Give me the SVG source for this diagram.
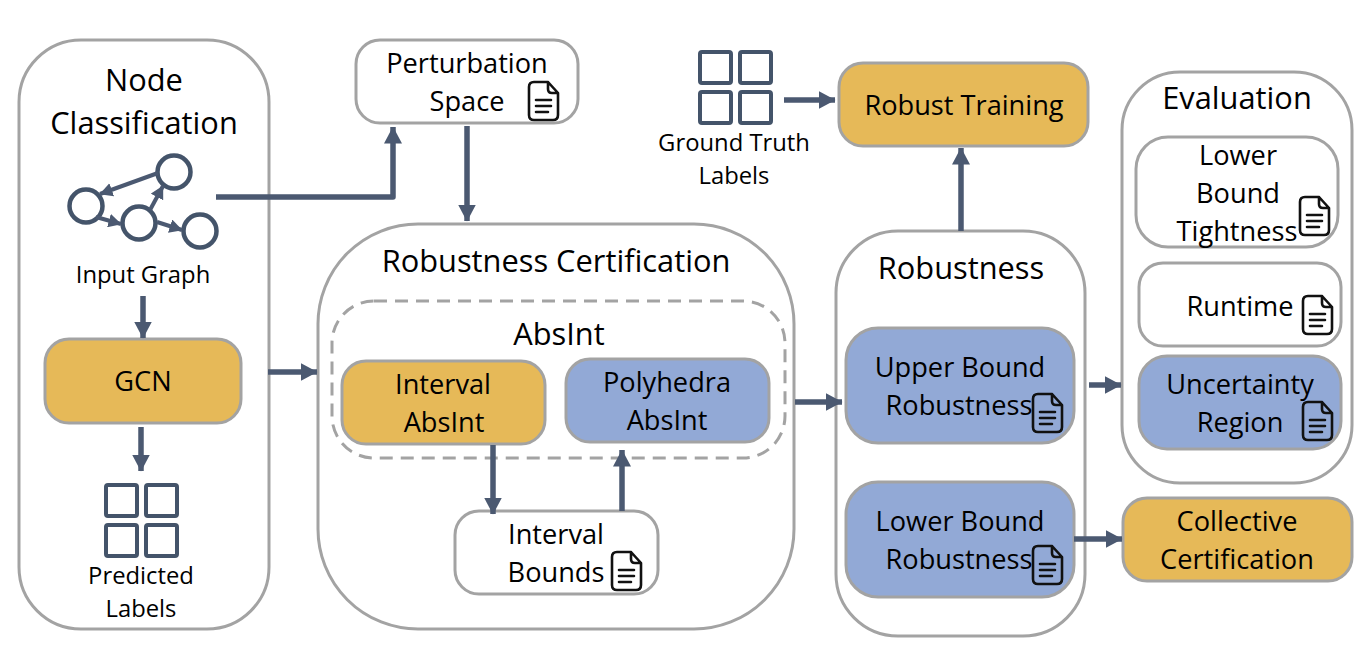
<svg xmlns="http://www.w3.org/2000/svg" width="1357" height="650" viewBox="0 0 1357 650">
<style>
text{font-family:"Open Sans","Noto Sans","Liberation Sans",sans-serif;fill:#000;text-anchor:middle}
.t{font-size:27.2px}.h{font-size:30.8px}.s{font-size:23.8px}
.b{fill:#fff;stroke:#a3a3a3;stroke-width:3}
.y{fill:#e6b958;stroke:#a3a3a3;stroke-width:3}
.u{fill:#92a9d6;stroke:#a3a3a3;stroke-width:3}
.c{fill:none;stroke:#4b5971;stroke-width:5.5}
.ic{fill:none;stroke:#44546a;stroke-width:4}
.n{fill:#fff;stroke:#44546a;stroke-width:4.5}
.e{fill:none;stroke:#4b5971;stroke-width:4}
.d{fill:none;stroke:#111;stroke-width:2.6;stroke-linejoin:round;stroke-linecap:round}
</style>
<defs>
<marker id="a" viewBox="0 0 13 14" refX="12.5" refY="7" markerWidth="13" markerHeight="14" markerUnits="userSpaceOnUse" orient="auto"><path d="M0 0L13 7L0 14Z" fill="#4b5971"/></marker>
<marker id="m" viewBox="0 0 17 18" refX="16.5" refY="9" markerWidth="17" markerHeight="18" markerUnits="userSpaceOnUse" orient="auto"><path d="M0 0L17 9L0 18Z" fill="#4b5971"/></marker>
<symbol id="doc" overflow="visible"><path class="d" d="M5 0H19L29 11V33Q29 38 24 38H5Q0 38 0 33V5Q0 0 5 0ZM19 0V7Q19 11 23 11H29M7 18H22M7 24H22M7 30H19"/></symbol>
<symbol id="grid" overflow="visible"><g class="ic"><rect x="0" y="0" width="31" height="31" rx="2"/><rect x="40" y="0" width="31" height="31" rx="2"/><rect x="0" y="40" width="31" height="31" rx="2"/><rect x="40" y="40" width="31" height="31" rx="2"/></g></symbol>
</defs>

<g id="node-classification">
<rect class="b" x="19" y="40" width="250" height="589" rx="62"/>
<text class="h" x="144" y="91">Node</text>
<text class="h" x="144" y="134">Classification</text>
<circle class="n" cx="174" cy="172" r="16.5"/><circle class="n" cx="86" cy="206" r="16.5"/><circle class="n" cx="139" cy="223" r="16.5"/><circle class="n" cx="200" cy="231" r="16.5"/>
<g class="e"><path d="M158 173L100 194" marker-end="url(#a)"/><path d="M96 217L121 224" marker-end="url(#a)"/><path d="M150 210L163 186" marker-end="url(#a)"/><path d="M157 222L182 230" marker-end="url(#a)"/></g>
<text class="s" x="143" y="283">Input Graph</text>
</g>
<g id="gcn"><rect class="y" x="45" y="339" width="196" height="84" rx="24"/><text class="t" x="143" y="391">GCN</text></g>
<g id="predicted-labels"><use href="#grid" x="106" y="485"/><text class="s" x="141" y="584">Predicted</text><text class="s" x="141" y="617">Labels</text></g>

<g id="perturbation-space"><rect class="b" x="356" y="40" width="222" height="83" rx="24"/><text class="t" x="467" y="73">Perturbation</text><text class="t" x="467" y="111">Space</text><use href="#doc" x="529" y="82"/></g>

<g id="robustness-certification"><rect class="b" x="318" y="224" width="476" height="405" rx="100"/><text class="h" x="556" y="272">Robustness Certification</text></g>
<g id="absint"><rect x="332" y="301" width="453" height="157" rx="42" fill="none" stroke="#a3a3a3" stroke-width="3" stroke-dasharray="13 8"/><text class="h" x="559" y="345">AbsInt</text></g>
<g id="interval-absint"><rect class="y" x="342" y="361" width="203" height="83" rx="24"/><text class="t" x="443" y="394">Interval</text><text class="t" x="444" y="432">AbsInt</text></g>
<g id="polyhedra-absint"><rect class="u" x="566" y="359" width="203" height="83" rx="24"/><text class="t" x="667" y="392">Polyhedra</text><text class="t" x="667" y="430">AbsInt</text></g>
<g id="interval-bounds"><rect class="b" x="455" y="511" width="203" height="83" rx="24"/><text class="t" x="556" y="544">Interval</text><text class="t" x="556" y="582">Bounds</text><use href="#doc" x="612" y="552"/></g>

<g id="ground-truth"><use href="#grid" x="700" y="52"/><text class="s" x="734" y="151">Ground Truth</text><text class="s" x="734" y="184">Labels</text></g>
<g id="robust-training"><rect class="y" x="839" y="63" width="249" height="83" rx="24"/><text class="t" x="964" y="115">Robust Training</text></g>

<g id="robustness"><rect class="b" x="836" y="231" width="249" height="405" rx="62"/><text class="h" x="961" y="279">Robustness</text></g>
<g id="upper-bound"><rect class="u" x="846" y="328" width="228" height="115" rx="32"/><text class="t" x="960" y="377">Upper Bound</text><text class="t" x="959" y="415">Robustness</text><use href="#doc" x="1033" y="394"/></g>
<g id="lower-bound"><rect class="u" x="846" y="482" width="228" height="115" rx="32"/><text class="t" x="960" y="531">Lower Bound</text><text class="t" x="959" y="569">Robustness</text><use href="#doc" x="1033" y="546"/></g>

<g id="evaluation"><rect class="b" x="1122" y="72" width="230" height="411" rx="58"/><text class="h" x="1237" y="109">Evaluation</text></g>
<g id="tightness"><rect class="b" x="1136" y="137" width="202" height="110" rx="32"/><text class="t" x="1238" y="165">Lower</text><text class="t" x="1238" y="203">Bound</text><text class="t" x="1237" y="241">Tightness</text><use href="#doc" x="1300" y="197"/></g>
<g id="runtime"><rect class="b" x="1139" y="263" width="202" height="83" rx="24"/><text class="t" x="1240" y="316">Runtime</text><use href="#doc" x="1303" y="296"/></g>
<g id="uncertainty"><rect class="u" x="1139" y="356" width="202" height="93" rx="28"/><text class="t" x="1240" y="394">Uncertainty</text><text class="t" x="1240" y="432">Region</text><use href="#doc" x="1303" y="402"/></g>
<g id="collective"><rect class="y" x="1123" y="498" width="229" height="83" rx="24"/><text class="t" x="1237" y="531">Collective</text><text class="t" x="1237" y="569">Certification</text></g>

<g id="connectors" class="c">
<path d="M216 197H393V127" marker-end="url(#m)" stroke-linejoin="round"/>
<path d="M467 126V221" marker-end="url(#m)"/>
<path d="M143 296V338" marker-end="url(#m)"/>
<path d="M141 427V471" marker-end="url(#m)"/>
<path d="M268 372H317" marker-end="url(#m)"/>
<path d="M493 445V514" marker-end="url(#m)"/>
<path d="M622 511V450" marker-end="url(#m)"/>
<path d="M795 402H842" marker-end="url(#m)"/>
<path d="M784 100H835" marker-end="url(#m)"/>
<path d="M961 231V148" marker-end="url(#m)"/>
<path d="M1089 385H1121" marker-end="url(#m)"/>
<path d="M1074 539H1122" marker-end="url(#m)"/>
</g>
</svg>
